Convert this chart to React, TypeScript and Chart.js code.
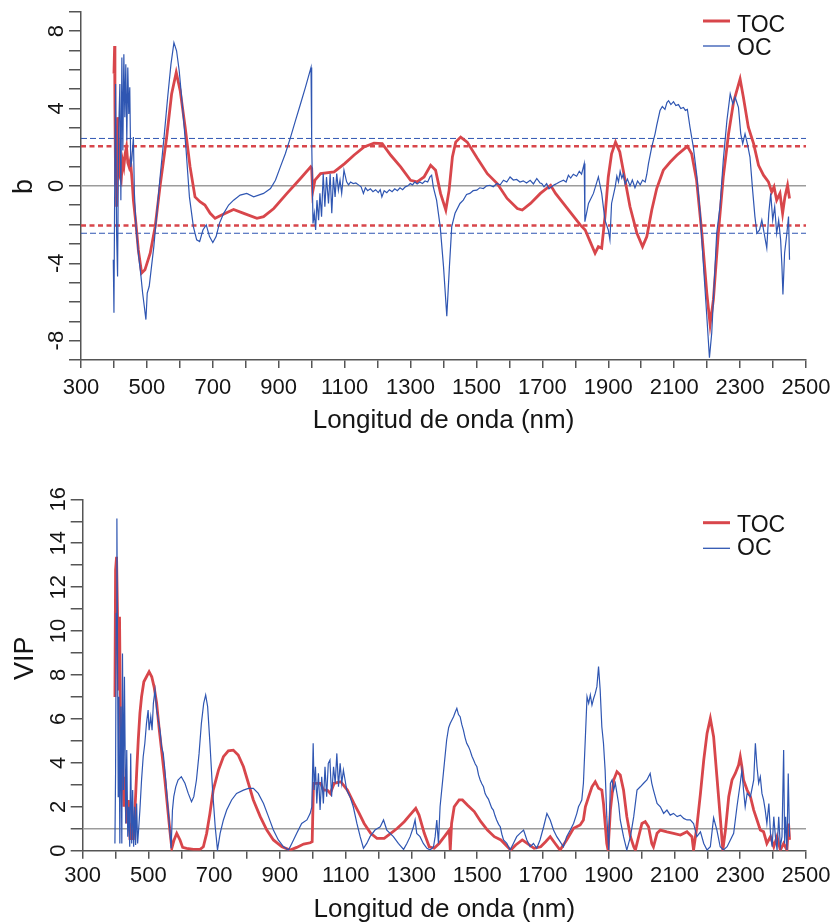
import React, { useEffect, useRef } from 'react';
import { Chart, registerables } from 'chart.js';

Chart.register(...registerables);

const FONT = '"Liberation Sans", Arial, Helvetica, sans-serif';
const RED = '#d8464b';
const BLUE = '#2f56b2';
const AXIS = '#555555';
const REFGRAY = '#9c9c9c';

// ---- axis / tick data ----
const xMin = 300;
const xMax = 2500;
const xTickLabels = [300, 500, 700, 900, 1100, 1300, 1500, 1700, 1900, 2100, 2300, 2500];
const bTickLabels = [-8, -4, 0, 4, 8];
const vipTickLabels = [0, 2, 4, 6, 8, 10, 12, 14, 16];
const seriesNames = ['TOC', 'OC'];
const xTitle = 'Longitud de onda (nm)';

// thresholds
const tocBLimit = 2.05;
const ocBLimit = 2.45;
const bZero = 0;
const vipLimit = 1;

// ---- top panel: regression coefficients b  [wavelength nm, b] ----
const tocB: [number, number][] = [
  [400, 5.8], [402, 7.23], [403, 4.0], [405, 0.0], [407, 2.2], [408, -1.08], [410, 1.5], [412, 3.55], [415, 1.49], [418, 0.5],
  [422, 0.29], [426, 1.32], [430, 0.98], [434, 1.66], [438, 2.01], [442, 1.2], [446, 0.98], [450, 1.32], [455, 0.29], [459, -0.74],
  [467, -2.0], [474, -3.31], [484, -4.51], [494, -4.34], [510, -3.48], [525, -2.11], [540, 0], [560, 2.52], [575, 4.75], [589, 5.86],
  [601, 4.92], [616, 3.03], [631, 0.98], [646, -0.57], [661, -0.82], [676, -0.99], [692, -1.42], [707, -1.68], [727, -1.51], [763, -1.22],
  [794, -1.42], [834, -1.68], [854, -1.59], [885, -1.17], [925, -0.39], [966, 0.38], [997, 0.98], [1000, 0.9], [1003, -0.31], [1010, 0.3],
  [1027, 0.63], [1068, 0.72], [1100, 1.15], [1128, 1.58], [1159, 2.01], [1189, 2.21], [1214, 2.18], [1240, 1.58], [1270, 0.98], [1300, 0.29],
  [1320, 0.21], [1341, 0.46], [1361, 1.06], [1376, 0.81], [1391, -0.39], [1407, -1.25], [1417, -0.22], [1427, 1.49], [1437, 2.26], [1452, 2.52],
  [1472, 2.26], [1503, 1.41], [1533, 0.63], [1563, 0.12], [1593, -0.65], [1624, -1.17], [1639, -1.25], [1664, -0.91], [1694, -0.39], [1725, 0.03],
  [1740, -0.39], [1756, -0.74], [1784, -1.34], [1815, -2.02], [1830, -2.28], [1845, -2.88], [1860, -3.48], [1870, -3.14], [1880, -3.22], [1890, -1.59],
  [1900, 0.46], [1910, 1.66], [1922, 2.26], [1935, 1.75], [1951, 0.29], [1966, -1.08], [1987, -2.45], [2004, -3.14], [2017, -2.62], [2032, -1.25],
  [2047, -0.14], [2067, 0.81], [2088, 1.23], [2108, 1.58], [2128, 1.87], [2140, 2.04], [2153, 1.66], [2168, 0.29], [2184, -2.45], [2199, -5.54],
  [2209, -7.16], [2219, -5.88], [2234, -2.45], [2249, 0.46], [2265, 2.69], [2280, 4.32], [2290, 4.92], [2300, 5.52], [2310, 4.58], [2325, 3.03],
  [2341, 2.18], [2356, 1.06], [2371, 0.55], [2386, 0.21], [2396, -0.31], [2403, -0.05], [2411, -0.74], [2421, -0.39], [2429, -1.42], [2436, -0.57],
  [2444, 0.03], [2450, -0.65],
];

const ocB: [number, number][] = [
  [398, -3.82], [400, -6.56], [402, -0.74], [405, 5.26], [408, -2.45], [411, -4.68], [414, 2.69], [418, 5.26], [421, -0.74], [424, 6.63],
  [427, 1.83], [430, 6.8], [433, 3.55], [436, 6.29], [439, 2.35], [442, 6.12], [445, 3.72], [448, 5.09], [451, 0.98], [454, 1.32],
  [459, 2.52], [462, -0.39], [467, -2.11], [474, -3.48], [481, -4.51], [487, -5.54], [492, -6.22], [497, -6.91], [501, -5.54], [507, -5.19],
  [514, -4.16], [521, -3.14], [530, -1.42], [540, 0.46], [552, 2.52], [563, 4.58], [573, 6.29], [582, 7.4], [590, 6.98], [598, 5.95],
  [609, 3.89], [619, 1.83], [629, -0.57], [641, -2.11], [651, -2.79], [660, -2.88], [670, -2.28], [680, -2.02], [690, -2.62], [700, -2.93],
  [710, -2.62], [720, -1.94], [733, -1.42], [748, -0.99], [763, -0.74], [783, -0.48], [803, -0.39], [824, -0.57], [854, -0.39], [875, -0.14],
  [890, 0.29], [905, 0.98], [920, 1.66], [936, 2.52], [951, 3.38], [966, 4.23], [981, 5.09], [998, 6.12], [1000, 2.35], [1004, -1.94],
  [1008, -1.42], [1012, -2.28], [1016, -0.74], [1021, -1.77], [1025, -0.39], [1030, -1.59], [1035, 0.63], [1040, -1.08], [1045, 0.46], [1051, -0.91],
  [1056, 0.63], [1061, -1.42], [1066, 0.46], [1071, -0.57], [1076, 0.63], [1081, -0.22], [1086, 0.29], [1091, -0.39], [1098, 0.81], [1106, 0.21],
  [1112, 0.05], [1118, 0.2], [1126, 0.12], [1134, 0.15], [1142, 0.05], [1150, -0.05], [1157, -0.39], [1163, -0.1], [1170, -0.25], [1178, -0.15],
  [1186, -0.3], [1194, -0.2], [1202, -0.35], [1208, -0.2], [1213, -0.57], [1220, -0.25], [1228, -0.35], [1236, -0.2], [1244, -0.3], [1252, -0.15],
  [1260, -0.25], [1268, -0.1], [1276, -0.2], [1284, -0.05], [1292, 0.0], [1299, 0.12], [1306, 0.05], [1313, 0.2], [1320, 0.1], [1328, 0.2],
  [1336, 0.12], [1344, 0.25], [1352, 0.2], [1359, 0.46], [1364, 0.55], [1369, -0.05], [1379, -0.74], [1390, -2.11], [1400, -4.16], [1410, -6.74],
  [1418, -4.16], [1425, -2.11], [1435, -1.42], [1450, -0.91], [1460, -0.74], [1470, -0.45], [1480, -0.39], [1490, -0.25], [1501, -0.22], [1510, -0.1],
  [1521, -0.14], [1531, 0.0], [1541, 0.03], [1551, -0.05], [1562, 0.12], [1572, 0.05], [1582, 0.29], [1592, 0.2], [1602, 0.46], [1612, 0.3],
  [1622, 0.33], [1632, 0.2], [1642, 0.26], [1652, 0.15], [1663, 0.29], [1673, 0.1], [1683, 0.38], [1693, 0.15], [1698, 0.12], [1705, -0.05],
  [1713, 0.12], [1720, -0.15], [1728, -0.05], [1736, 0.05], [1744, 0.12], [1752, 0.2], [1764, 0.29], [1772, 0.2], [1779, 0.55], [1786, 0.4],
  [1794, 0.6], [1804, 0.5], [1812, 0.75], [1819, 0.6], [1827, 1.15], [1829, -1.85], [1840, -0.91], [1855, -0.39], [1870, 0.46], [1880, -0.39],
  [1890, -1.77], [1900, -2.28], [1905, -2.79], [1910, -0.91], [1921, -0.05], [1926, 0.5], [1931, 0.2], [1936, 0.75], [1941, 0.4], [1946, 0.6],
  [1951, 0.1], [1958, 0.35], [1966, 0.0], [1973, 0.3], [1981, -0.1], [1989, 0.25], [1997, 0.05], [2004, 0.3], [2012, 0.2], [2017, 0.6],
  [2022, 1.15], [2032, 2.01], [2042, 2.69], [2047, 3.12], [2057, 3.89], [2064, 4.1], [2072, 3.95], [2078, 4.3], [2083, 4.4], [2090, 4.2],
  [2098, 4.35], [2105, 4.15], [2113, 4.2], [2120, 4.0], [2128, 4.05], [2134, 3.9], [2140, 3.95], [2148, 3.03], [2158, 2.01], [2168, 0.63],
  [2179, -1.42], [2189, -4.16], [2199, -6.74], [2207, -8.88], [2214, -7.59], [2221, -5.19], [2229, -2.45], [2239, -1.08], [2249, 1.32], [2260, 3.38],
  [2270, 4.75], [2278, 4.23], [2285, 4.58], [2295, 4.06], [2302, 2.69], [2308, 2.18], [2315, 2.69], [2322, 2.18], [2330, 1.49], [2338, -0.22],
  [2345, -1.59], [2351, -2.45], [2359, -2.28], [2366, -1.77], [2373, -2.45], [2381, -3.22], [2387, -1.42], [2393, -0.39], [2399, -1.77], [2405, -1.08],
  [2411, -2.45], [2417, -1.77], [2423, -2.79], [2427, -4.16], [2430, -5.62], [2435, -3.48], [2442, -2.45], [2447, -1.59], [2450, -3.82],
];

// ---- bottom panel: VIP scores [wavelength nm, VIP] ----
const tocVip: [number, number][] = [
  [398, 7.0], [400, 12.78], [403, 13.38], [406, 10.65], [409, 7.3], [412, 10.65], [415, 5.8], [418, 2.76], [421, 4.58], [425, 2.0],
  [429, 3.37], [434, 1.24], [439, 2.31], [444, 0.49], [449, 1.24], [454, 0.49], [459, 1.85], [464, 3.52], [469, 5.04], [474, 6.25],
  [479, 7.01], [486, 7.69], [494, 7.92], [502, 8.15], [510, 7.92], [517, 7.47], [525, 6.71], [533, 5.49], [541, 4.43], [550, 3.22],
  [558, 2.0], [565, 0.94], [571, 0.11], [578, 0.49], [586, 0.79], [596, 0.49], [604, 0.15], [616, 0.11], [637, 0.06], [657, 0.06],
  [667, 0.18], [677, 0.79], [687, 1.7], [697, 2.76], [713, 3.67], [728, 4.28], [743, 4.55], [758, 4.58], [773, 4.36], [789, 3.82],
  [804, 3.07], [819, 2.31], [840, 1.55], [860, 0.94], [880, 0.49], [906, 0.18], [931, 0.03], [951, 0.15], [972, 0.3], [992, 0.36],
  [998, 0.41], [1002, 3.07], [1012, 3.07], [1024, 3.07], [1032, 2.76], [1044, 2.76], [1053, 2.61], [1065, 3.07], [1085, 3.14], [1105, 2.76],
  [1125, 2.15], [1141, 1.7], [1156, 1.24], [1176, 0.79], [1195, 0.56], [1217, 0.56], [1237, 0.79], [1257, 1.02], [1278, 1.32], [1295, 1.62],
  [1313, 1.93], [1323, 1.62], [1339, 0.79], [1354, 0.18], [1369, 0.11], [1384, 0.33], [1400, 0.64], [1415, 0.94], [1418, 0.03], [1422, 1.24],
  [1430, 2.0], [1445, 2.31], [1455, 2.31], [1470, 2.08], [1491, 1.78], [1511, 1.32], [1531, 0.94], [1552, 0.64], [1572, 0.49], [1592, 0.18],
  [1602, 0.03], [1617, 0.26], [1637, 0.49], [1652, 0.33], [1673, 0.11], [1693, 0.18], [1708, 0.41], [1722, 0.64], [1737, 0.33], [1752, 0.03],
  [1772, 0.49], [1793, 1.02], [1813, 1.17], [1823, 1.4], [1829, 2.0], [1839, 2.46], [1849, 2.91], [1859, 3.14], [1869, 2.84], [1879, 2.76],
  [1884, 2.15], [1889, 1.24], [1894, 0.33], [1898, 0.03], [1905, 1.85], [1915, 3.22], [1925, 3.6], [1935, 3.45], [1945, 2.76], [1955, 1.55],
  [1966, 0.64], [1976, 0.18], [1981, 0.03], [1991, 0.64], [2001, 1.24], [2011, 1.32], [2021, 1.09], [2031, 0.33], [2036, 0.18], [2047, 0.79],
  [2057, 0.94], [2077, 0.86], [2097, 0.79], [2118, 0.71], [2138, 0.86], [2153, 0.64], [2158, 0.03], [2168, 1.09], [2179, 2.61], [2189, 4.13],
  [2199, 5.34], [2209, 6.02], [2219, 5.19], [2229, 3.37], [2239, 1.55], [2247, 0.03], [2255, 0.94], [2265, 2.46], [2275, 3.22], [2285, 3.52],
  [2295, 3.9], [2300, 4.28], [2305, 3.82], [2310, 3.22], [2321, 2.76], [2331, 2.46], [2341, 1.85], [2351, 1.4], [2361, 0.94], [2371, 0.86],
  [2381, 0.33], [2392, 0.64], [2402, 0.18], [2412, 0.64], [2422, 0.03], [2432, 0.33], [2442, 0.03], [2447, 1.24], [2450, 0.49],
];

const ocVip: [number, number][] = [
  [398, 0.33], [400, 3.52], [402, 10.8], [404, 15.13], [406, 8.83], [408, 2.46], [410, 7.01], [413, 0.33], [416, 6.56], [419, 0.33],
  [421, 8.98], [424, 2.76], [427, 7.92], [431, 1.24], [434, 4.58], [437, 0.64], [440, 2.0], [443, 0.18], [446, 4.43], [449, 0.33],
  [452, 2.76], [455, 0.18], [458, 2.0], [461, 0.26], [464, 2.15], [467, 0.33], [470, 0.94], [474, 1.85], [479, 3.22], [484, 4.28],
  [489, 4.89], [494, 5.8], [499, 6.4], [502, 5.49], [507, 6.1], [511, 5.49], [515, 6.71], [520, 7.31], [525, 6.4], [530, 5.95],
  [535, 5.49], [540, 4.73], [545, 4.43], [550, 3.67], [555, 2.76], [560, 1.85], [565, 0.94], [569, 0.11], [573, 1.85], [577, 2.46],
  [583, 2.91], [590, 3.22], [600, 3.37], [611, 3.07], [621, 2.61], [631, 2.23], [638, 2.46], [646, 3.22], [654, 4.43], [661, 5.8],
  [668, 6.71], [674, 7.09], [680, 6.56], [687, 4.89], [695, 2.76], [703, 1.09], [710, 0.03], [718, 0.79], [728, 1.4], [738, 1.85],
  [753, 2.31], [768, 2.61], [789, 2.76], [804, 2.84], [819, 2.84], [834, 2.61], [850, 2.15], [865, 1.55], [880, 0.94], [895, 0.49],
  [911, 0.18], [926, 0.03], [936, 0.33], [951, 0.79], [966, 1.24], [982, 1.4], [992, 1.7], [997, 2.0], [1001, 4.89], [1004, 2.76],
  [1008, 3.82], [1012, 2.15], [1017, 3.52], [1022, 1.85], [1027, 3.37], [1032, 2.15], [1037, 3.82], [1042, 2.46], [1047, 3.98], [1052, 4.13],
  [1057, 2.46], [1063, 3.82], [1068, 3.07], [1073, 4.43], [1078, 2.91], [1083, 3.98], [1088, 3.07], [1093, 3.67], [1098, 3.22], [1103, 2.76],
  [1113, 2.46], [1123, 2.0], [1134, 1.24], [1144, 0.64], [1154, 0.11], [1164, 0.33], [1174, 0.64], [1189, 0.94], [1205, 1.09], [1215, 1.4],
  [1225, 0.94], [1235, 0.79], [1245, 0.64], [1260, 0.33], [1276, 0.06], [1286, 0.33], [1296, 0.64], [1306, 1.09], [1311, 1.4], [1316, 0.79],
  [1326, 0.64], [1336, 0.33], [1347, 0.11], [1357, 0.03], [1367, 0.18], [1372, 0.64], [1377, 1.4], [1382, 0.33], [1387, 2.0], [1397, 3.52],
  [1407, 5.04], [1413, 5.6], [1418, 5.8], [1423, 5.95], [1428, 6.1], [1433, 6.3], [1438, 6.48], [1443, 6.2], [1448, 6.1], [1453, 5.75],
  [1458, 5.49], [1463, 5.15], [1468, 4.89], [1473, 4.75], [1478, 4.58], [1484, 4.3], [1489, 4.13], [1494, 3.95], [1499, 3.82], [1504, 3.45],
  [1509, 3.22], [1514, 3.05], [1519, 2.91], [1524, 2.6], [1529, 2.46], [1534, 2.35], [1539, 2.15], [1544, 1.95], [1549, 1.85], [1554, 1.6],
  [1559, 1.4], [1565, 1.2], [1570, 1.09], [1575, 0.75], [1580, 0.49], [1590, 0.33], [1600, 0.03], [1610, 0.33], [1620, 0.64], [1630, 0.79],
  [1641, 0.94], [1651, 0.49], [1661, 0.18], [1671, 0.33], [1681, 0.11], [1691, 0.49], [1702, 1.09], [1712, 1.7], [1722, 1.4], [1732, 0.94],
  [1742, 0.64], [1752, 0.41], [1762, 0.18], [1772, 0.64], [1783, 0.94], [1793, 1.24], [1803, 1.7], [1808, 2.0], [1813, 2.15], [1818, 2.31],
  [1823, 3.07], [1829, 5.19], [1834, 7.01], [1839, 6.71], [1844, 7.09], [1849, 6.63], [1854, 6.93], [1859, 7.16], [1864, 7.47], [1869, 8.38],
  [1874, 7.31], [1879, 5.64], [1884, 4.89], [1889, 3.67], [1894, 1.55], [1900, 0.03], [1905, 3.07], [1910, 3.22], [1915, 2.76], [1920, 3.07],
  [1925, 2.61], [1930, 2.15], [1935, 1.4], [1945, 0.64], [1955, 0.03], [1966, 0.64], [1976, 1.55], [1986, 2.76], [1996, 2.91], [2006, 3.07],
  [2016, 3.22], [2026, 3.52], [2031, 3.07], [2036, 2.76], [2047, 2.15], [2057, 2.0], [2067, 1.7], [2077, 1.85], [2087, 1.62], [2097, 1.7],
  [2108, 1.55], [2118, 1.62], [2128, 1.47], [2138, 1.4], [2148, 1.4], [2158, 1.24], [2168, 0.64], [2179, 0.86], [2189, 0.33], [2199, 0.03],
  [2209, 0.18], [2219, 1.5], [2229, 0.94], [2239, 0.18], [2249, 0.03], [2260, 0.18], [2270, 0.49], [2280, 0.79], [2290, 2.0], [2300, 3.07],
  [2305, 3.67], [2310, 2.76], [2315, 2.0], [2321, 2.61], [2331, 2.46], [2341, 3.22], [2346, 4.89], [2351, 3.82], [2356, 3.07], [2361, 3.37],
  [2366, 2.61], [2371, 2.31], [2376, 1.85], [2381, 1.24], [2387, 2.15], [2392, 0.79], [2397, 0.18], [2402, 1.55], [2407, 0.64], [2412, 0.03],
  [2417, 1.55], [2422, 0.18], [2427, 0.64], [2432, 4.58], [2435, 0.33], [2438, 1.55], [2442, 0.03], [2446, 3.52], [2450, 0.64],
];

// ---- panel layout specs (canvas-relative positions, not data) ----
type PanelSpec = {
  top: number;
  height: number;
  plotLeft: number;
  plotTop: number;
  plotBottom: number;
  yMin: number;
  yMax: number;
  yTicks: number[];
  yTitle: string;
  yTitleX: number;
  yTitleY: number;
  xLabelBaseline: number;
  xTitleBaseline: number;
  legendLineY: [number, number];
  legendTextBaseline: [number, number];
};

const topSpec: PanelSpec = {
  top: 0,
  height: 460,
  plotLeft: 81,
  plotTop: 11.7,
  plotBottom: 360,
  yMin: -9,
  yMax: 9,
  yTicks: bTickLabels,
  yTitle: 'b',
  yTitleX: 31.7,
  yTitleY: 186.5,
  xLabelBaseline: 393.5,
  xTitleBaseline: 428,
  legendLineY: [21, 46],
  legendTextBaseline: [31.5, 55],
};

const bottomSpec: PanelSpec = {
  top: 460,
  height: 462,
  plotLeft: 82.7,
  plotTop: 39.3,
  plotBottom: 390.7,
  yMin: 0,
  yMax: 16,
  yTicks: vipTickLabels,
  yTitle: 'VIP',
  yTitleX: 33.3,
  yTitleY: 198.3,
  xLabelBaseline: 422.3,
  xTitleBaseline: 456.5,
  legendLineY: [62.7, 88.3],
  legendTextBaseline: [71.7, 95],
};

const W = 830;
const PLOT_RIGHT = 806;

function toPoints(arr: [number, number][]) {
  return arr.map(([x, y]) => ({ x, y }));
}

function hLine(y: number) {
  return [
    { x: xMin, y },
    { x: xMax, y },
  ];
}

function makeTextPlugin(spec: PanelSpec) {
  return {
    id: 'panelText',
    afterDraw(chart: any) {
      const ctx: CanvasRenderingContext2D = chart.ctx;
      const xs = chart.scales.x;
      const ys = chart.scales.y;
      const area = chart.chartArea;
      ctx.save();
      ctx.fillStyle = '#151515';
      ctx.textBaseline = 'alphabetic';
      ctx.textAlign = 'center';

      ctx.font = `22px ${FONT}`;
      for (const v of xTickLabels) {
        ctx.fillText(String(v), xs.getPixelForValue(v), spec.xLabelBaseline);
      }
      ctx.font = `26px ${FONT}`;
      ctx.fillText(xTitle, (area.left + area.right) / 2, spec.xTitleBaseline);

      ctx.font = `22px ${FONT}`;
      for (const v of spec.yTicks) {
        ctx.save();
        ctx.translate(area.left - 17.7, ys.getPixelForValue(v));
        ctx.rotate(-Math.PI / 2);
        ctx.fillText(String(v), 0, 0);
        ctx.restore();
      }

      ctx.font = `27px ${FONT}`;
      ctx.save();
      ctx.translate(spec.yTitleX, spec.yTitleY);
      ctx.rotate(-Math.PI / 2);
      ctx.fillText(spec.yTitle, 0, 0);
      ctx.restore();

      // legend
      const colors = [RED, BLUE];
      const widths = [3, 1.3];
      ctx.textAlign = 'left';
      ctx.font = `23px ${FONT}`;
      for (let i = 0; i < seriesNames.length; i++) {
        ctx.beginPath();
        ctx.strokeStyle = colors[i];
        ctx.lineWidth = widths[i];
        ctx.moveTo(703, spec.legendLineY[i]);
        ctx.lineTo(730, spec.legendLineY[i]);
        ctx.stroke();
        ctx.fillText(seriesNames[i], 737, spec.legendTextBaseline[i]);
      }
      ctx.restore();
    },
  };
}

function buildConfig(spec: PanelSpec, toc: [number, number][], oc: [number, number][], refLines: any[]) {
  return {
    type: 'line' as const,
    data: {
      datasets: [
        {
          label: seriesNames[1],
          data: toPoints(oc),
          borderColor: BLUE,
          borderWidth: 1.2,
          pointRadius: 0,
          tension: 0,
          order: 1,
        },
        {
          label: seriesNames[0],
          data: toPoints(toc),
          borderColor: RED,
          borderWidth: 2.8,
          pointRadius: 0,
          tension: 0,
          order: 2,
        },
        ...refLines,
      ],
    },
    options: {
      animation: false,
      responsive: false,
      events: [],
      layout: {
        padding: { left: 0, top: spec.plotTop, right: W - PLOT_RIGHT, bottom: 0 },
      },
      plugins: {
        legend: { display: false },
        tooltip: { enabled: false },
      },
      scales: {
        x: {
          type: 'linear',
          min: xMin,
          max: xMax,
          ticks: { display: false, stepSize: 100, autoSkip: false },
          grid: {
            display: true,
            drawOnChartArea: false,
            drawTicks: true,
            tickLength: 8,
            color: AXIS,
            lineWidth: 1.5,
          },
          border: { display: true, color: AXIS, width: 1.5 },
          afterFit: (scale: any) => {
            scale.height = spec.height - spec.plotBottom;
          },
        },
        y: {
          type: 'linear',
          min: spec.yMin,
          max: spec.yMax,
          ticks: { display: false, stepSize: 1, autoSkip: false },
          grid: {
            display: true,
            drawOnChartArea: false,
            drawTicks: true,
            tickLength: 12,
            color: AXIS,
            lineWidth: 1.5,
          },
          border: { display: true, color: AXIS, width: 1.5 },
          afterFit: (scale: any) => {
            scale.width = spec.plotLeft;
          },
        },
      },
    },
    plugins: [makeTextPlugin(spec)],
  };
}

function Panel({ spec, toc, oc, refLines }: { spec: PanelSpec; toc: [number, number][]; oc: [number, number][]; refLines: any[] }) {
  const ref = useRef<HTMLCanvasElement | null>(null);
  useEffect(() => {
    if (!ref.current) return;
    const chart = new Chart(ref.current, buildConfig(spec, toc, oc, refLines) as any);
    return () => chart.destroy();
  }, []);
  return (
    <canvas
      ref={ref}
      width={W}
      height={spec.height}
      style={{ position: 'absolute', left: 0, top: spec.top, width: W, height: spec.height, display: 'block' }}
    />
  );
}

const refBase = { pointRadius: 0, tension: 0, fill: false };

const topRefLines = [
  { ...refBase, label: 'ocLimUp', data: hLine(ocBLimit), borderColor: BLUE, borderWidth: 1, borderDash: [6, 3], order: 3 },
  { ...refBase, label: 'ocLimDn', data: hLine(-ocBLimit), borderColor: BLUE, borderWidth: 1, borderDash: [6, 3], order: 3 },
  { ...refBase, label: 'tocLimUp', data: hLine(tocBLimit), borderColor: RED, borderWidth: 2.6, borderDash: [5, 3.5], order: 3 },
  { ...refBase, label: 'tocLimDn', data: hLine(-tocBLimit), borderColor: RED, borderWidth: 2.6, borderDash: [5, 3.5], order: 3 },
  { ...refBase, label: 'zero', data: hLine(bZero), borderColor: REFGRAY, borderWidth: 1.5, order: 4 },
];

const bottomRefLines = [
  { ...refBase, label: 'vipLim', data: hLine(vipLimit), borderColor: REFGRAY, borderWidth: 1.5, order: 4 },
];

export default function App() {
  return (
    <div style={{ position: 'absolute', left: 0, top: 0, width: W, height: 922, background: '#ffffff' }}>
      <Panel spec={topSpec} toc={tocB} oc={ocB} refLines={topRefLines} />
      <Panel spec={bottomSpec} toc={tocVip} oc={ocVip} refLines={bottomRefLines} />
    </div>
  );
}
